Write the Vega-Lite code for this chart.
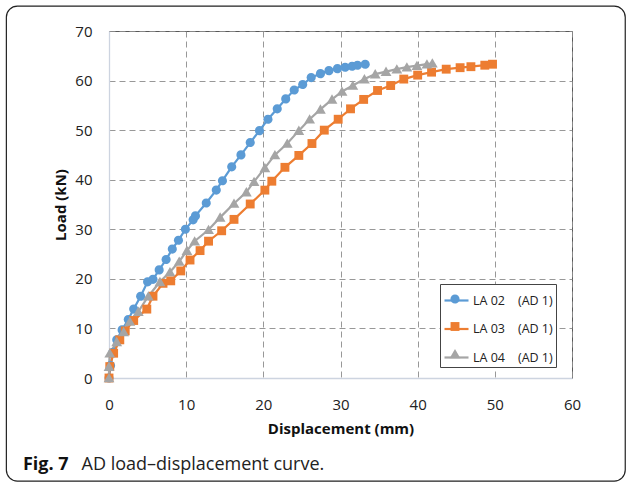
{
  "$schema": "https://vega.github.io/schema/vega-lite/v6.json",
  "width": 463,
  "height": 347,
  "autosize": {"type": "none"},
  "padding": {"left": 109, "top": 31, "right": 54, "bottom": 104},
  "background": "white",
  "config": {
    "font": "Open Sans",
    "view": {"stroke": "#595959", "strokeWidth": 1},
    "axis": {
      "labelFont": "Open Sans", "labelFontSize": 15, "labelColor": "#222",
      "titleFont": "Open Sans", "titleFontSize": 15, "titleFontWeight": "bold", "titleColor": "#111",
      "ticks": false, "tickSize": 0,
      "domainColor": "#cdd4e0", "domainWidth": 1.3,
      "grid": true, "gridColor": "#8c8c8c", "gridDash": [6, 4], "gridWidth": 0.9,
      "labelFlush": false, "labelOverlap": false
    },
    "axisX": {"labelPadding": 19, "titlePadding": 9},
    "axisY": {"labelPadding": 17, "titlePadding": 6}
  },
  "datasets": {
    "curves": [
      {"series": "LA 02", "d": 0, "load": 0},
      {"series": "LA 02", "d": 0.2, "load": 2.5},
      {"series": "LA 02", "d": 0.5, "load": 5.2},
      {"series": "LA 02", "d": 1.0, "load": 7.7},
      {"series": "LA 02", "d": 1.7, "load": 9.7},
      {"series": "LA 02", "d": 2.5, "load": 11.8},
      {"series": "LA 02", "d": 3.2, "load": 13.9},
      {"series": "LA 02", "d": 4.1, "load": 16.5},
      {"series": "LA 02", "d": 5.0, "load": 19.4},
      {"series": "LA 02", "d": 5.7, "load": 19.9},
      {"series": "LA 02", "d": 6.5, "load": 21.8},
      {"series": "LA 02", "d": 7.4, "load": 23.9},
      {"series": "LA 02", "d": 8.2, "load": 26.0},
      {"series": "LA 02", "d": 9.0, "load": 27.8},
      {"series": "LA 02", "d": 9.9, "load": 30.0},
      {"series": "LA 02", "d": 10.9, "load": 31.9},
      {"series": "LA 02", "d": 11.2, "load": 32.7},
      {"series": "LA 02", "d": 12.6, "load": 35.3},
      {"series": "LA 02", "d": 13.9, "load": 37.9},
      {"series": "LA 02", "d": 14.7, "load": 39.8},
      {"series": "LA 02", "d": 15.9, "load": 42.6},
      {"series": "LA 02", "d": 17.1, "load": 45.0},
      {"series": "LA 02", "d": 18.3, "load": 47.5},
      {"series": "LA 02", "d": 19.5, "load": 49.9},
      {"series": "LA 02", "d": 20.6, "load": 52.2},
      {"series": "LA 02", "d": 21.8, "load": 54.3},
      {"series": "LA 02", "d": 22.9, "load": 56.3},
      {"series": "LA 02", "d": 24.0, "load": 58.1},
      {"series": "LA 02", "d": 25.1, "load": 59.2},
      {"series": "LA 02", "d": 26.2, "load": 60.6},
      {"series": "LA 02", "d": 27.4, "load": 61.4},
      {"series": "LA 02", "d": 28.5, "load": 62.0},
      {"series": "LA 02", "d": 29.6, "load": 62.4},
      {"series": "LA 02", "d": 30.6, "load": 62.7},
      {"series": "LA 02", "d": 31.5, "load": 62.9},
      {"series": "LA 02", "d": 32.2, "load": 63.1},
      {"series": "LA 02", "d": 33.2, "load": 63.3},
      {"series": "LA 03", "d": 0, "load": 0},
      {"series": "LA 03", "d": 0.1, "load": 2.3},
      {"series": "LA 03", "d": 0.6, "load": 5.0},
      {"series": "LA 03", "d": 1.4, "load": 7.7},
      {"series": "LA 03", "d": 2.1, "load": 9.5},
      {"series": "LA 03", "d": 3.2, "load": 11.6},
      {"series": "LA 03", "d": 4.9, "load": 13.9},
      {"series": "LA 03", "d": 5.7, "load": 16.5},
      {"series": "LA 03", "d": 7.0, "load": 19.1},
      {"series": "LA 03", "d": 8.0, "load": 19.6},
      {"series": "LA 03", "d": 9.3, "load": 21.6},
      {"series": "LA 03", "d": 10.5, "load": 23.8},
      {"series": "LA 03", "d": 11.8, "load": 25.7},
      {"series": "LA 03", "d": 12.9, "load": 27.6},
      {"series": "LA 03", "d": 14.6, "load": 29.7},
      {"series": "LA 03", "d": 16.2, "load": 32.0},
      {"series": "LA 03", "d": 18.3, "load": 35.1},
      {"series": "LA 03", "d": 20.2, "load": 37.9},
      {"series": "LA 03", "d": 21.1, "load": 39.7},
      {"series": "LA 03", "d": 22.8, "load": 42.5},
      {"series": "LA 03", "d": 24.6, "load": 44.9},
      {"series": "LA 03", "d": 26.3, "load": 47.3},
      {"series": "LA 03", "d": 27.9, "load": 50.0},
      {"series": "LA 03", "d": 29.7, "load": 52.2},
      {"series": "LA 03", "d": 31.3, "load": 54.3},
      {"series": "LA 03", "d": 33.0, "load": 56.2},
      {"series": "LA 03", "d": 34.8, "load": 58.0},
      {"series": "LA 03", "d": 36.5, "load": 59.0},
      {"series": "LA 03", "d": 38.2, "load": 60.3},
      {"series": "LA 03", "d": 40.0, "load": 61.1},
      {"series": "LA 03", "d": 41.8, "load": 61.7},
      {"series": "LA 03", "d": 43.7, "load": 62.3},
      {"series": "LA 03", "d": 45.5, "load": 62.6},
      {"series": "LA 03", "d": 46.9, "load": 62.8},
      {"series": "LA 03", "d": 48.7, "load": 63.1},
      {"series": "LA 03", "d": 49.7, "load": 63.3},
      {"series": "LA 04", "d": 0, "load": 0},
      {"series": "LA 04", "d": 0.0, "load": 2.3},
      {"series": "LA 04", "d": 0.1, "load": 5.0},
      {"series": "LA 04", "d": 1.0, "load": 7.3},
      {"series": "LA 04", "d": 1.9, "load": 9.3},
      {"series": "LA 04", "d": 2.7, "load": 11.4},
      {"series": "LA 04", "d": 3.8, "load": 13.4},
      {"series": "LA 04", "d": 5.1, "load": 16.5},
      {"series": "LA 04", "d": 6.6, "load": 19.4},
      {"series": "LA 04", "d": 7.9, "load": 21.4},
      {"series": "LA 04", "d": 9.1, "load": 23.5},
      {"series": "LA 04", "d": 10.1, "load": 25.7},
      {"series": "LA 04", "d": 11.1, "load": 27.6},
      {"series": "LA 04", "d": 12.9, "load": 29.9},
      {"series": "LA 04", "d": 14.4, "load": 32.4},
      {"series": "LA 04", "d": 16.2, "load": 35.2},
      {"series": "LA 04", "d": 17.8, "load": 37.5},
      {"series": "LA 04", "d": 18.8, "load": 39.6},
      {"series": "LA 04", "d": 20.2, "load": 42.4},
      {"series": "LA 04", "d": 21.5, "load": 45.0},
      {"series": "LA 04", "d": 23.1, "load": 47.3},
      {"series": "LA 04", "d": 24.6, "load": 49.9},
      {"series": "LA 04", "d": 26.0, "load": 52.2},
      {"series": "LA 04", "d": 27.4, "load": 54.2},
      {"series": "LA 04", "d": 28.9, "load": 56.2},
      {"series": "LA 04", "d": 30.2, "load": 57.8},
      {"series": "LA 04", "d": 31.6, "load": 59.0},
      {"series": "LA 04", "d": 33.1, "load": 60.3},
      {"series": "LA 04", "d": 34.5, "load": 61.3},
      {"series": "LA 04", "d": 35.9, "load": 61.8},
      {"series": "LA 04", "d": 37.3, "load": 62.3},
      {"series": "LA 04", "d": 38.6, "load": 62.7},
      {"series": "LA 04", "d": 39.9, "load": 63.0},
      {"series": "LA 04", "d": 41.2, "load": 63.3},
      {"series": "LA 04", "d": 41.9, "load": 63.5}
    ]
  },
  "layer": [
    {
      "data": {"values": [{}]},
      "mark": {"type": "rect", "fill": null, "filled": false, "stroke": "#222", "strokeWidth": 1.2, "cornerRadius": 11, "clip": false},
      "encoding": {
        "x": {"datum": -13.3, "type": "quantitative", "scale": {"domain": [0, 60], "nice": false}, "title": "Displacement (mm)"},
        "x2": {"datum": 66.9},
        "y": {"datum": 75.0, "type": "quantitative", "scale": {"domain": [0, 70], "nice": false}, "title": "Load (kN)"},
        "y2": {"datum": -20.8}
      }
    },
    {
      "data": {"name": "curves"},
      "mark": {"type": "line", "strokeWidth": 2.2},
      "encoding": {
        "x": {"field": "d", "type": "quantitative", "scale": {"domain": [0, 60], "nice": false}, "title": "Displacement (mm)", "axis": {"values": [0, 10, 20, 30, 40, 50, 60]}},
        "y": {"field": "load", "type": "quantitative", "scale": {"domain": [0, 70], "nice": false}, "title": "Load (kN)", "axis": {"values": [0, 10, 20, 30, 40, 50, 60, 70]}},
        "color": {
          "field": "series", "type": "nominal",
          "scale": {"range": ["#5B9BD5", "#ED7D31", "#A5A5A5"]},
          "legend": {
            "orient": "none", "legendX": 331, "legendY": 253, "title": null,
            "padding": 3, "rowPadding": 8.5, "labelFont": "Open Sans", "labelFontSize": 12.5, "labelColor": "#222",
            "labelOffset": 3, "symbolSize": 576, "symbolType": "stroke", "symbolStrokeWidth": 2.2,
            "strokeColor": "#444", "fillColor": "white",
            "labelExpr": "datum.label + '\u00a0\u00a0\u00a0\u00a0(AD 1)'"
          }
        },
        "detail": {"field": "series"}
      }
    },
    {
      "data": {"name": "curves"},
      "mark": {"type": "point", "filled": true, "size": 576, "opacity": 1, "strokeWidth": 0},
      "encoding": {
        "x": {"field": "d", "type": "quantitative", "scale": {"domain": [0, 60], "nice": false}, "title": "Displacement (mm)"},
        "y": {"field": "load", "type": "quantitative", "scale": {"domain": [0, 70], "nice": false}, "title": "Load (kN)"},
        "fill": {
          "field": "series", "type": "nominal",
          "scale": {"domain": ["LA 02", "LA 03", "LA 04"], "range": ["#5B9BD5", "#ED7D31", "#A5A5A5"]},
          "legend": {
            "orient": "none", "legendX": 331, "legendY": 253, "title": null,
            "padding": 3, "rowPadding": 8.5, "labelFont": "Open Sans", "labelFontSize": 12.5, "labelOpacity": 0,
            "labelOffset": 3, "symbolSize": 576, "symbolStrokeWidth": 0, "symbolOpacity": 1,
            "labelExpr": "''"
          }
        },
        "shape": {
          "field": "series", "type": "nominal",
          "scale": {"domain": ["LA 02", "LA 03", "LA 04"], "range": [
            "M0.38,0A0.38,0.38 0 1,1 -0.38,0A0.38,0.38 0 1,1 0.38,0Z",
            "M-0.37,-0.37H0.37V0.37H-0.37Z",
            "M0,-0.42L0.45,0.36L-0.45,0.36Z"
          ]}
        }
      }
    },
    {
      "data": {"values": [{}]},
      "mark": {"type": "text", "align": "left", "baseline": "alphabetic", "font": "Open Sans", "fontSize": 18, "fontWeight": "bold", "color": "#111", "text": "Fig. 7"},
      "encoding": {
        "x": {"datum": -11.15, "type": "quantitative", "scale": {"domain": [0, 60], "nice": false}, "title": "Displacement (mm)"},
        "y": {"datum": -18.6, "type": "quantitative", "scale": {"domain": [0, 70], "nice": false}, "title": "Load (kN)"}
      }
    },
    {
      "data": {"values": [{}]},
      "mark": {"type": "text", "align": "left", "baseline": "alphabetic", "font": "Open Sans", "fontSize": 18, "fontWeight": "normal", "color": "#222", "text": "AD load–displacement curve."},
      "encoding": {
        "x": {"datum": -3.55, "type": "quantitative", "scale": {"domain": [0, 60], "nice": false}, "title": "Displacement (mm)"},
        "y": {"datum": -18.6, "type": "quantitative", "scale": {"domain": [0, 70], "nice": false}, "title": "Load (kN)"}
      }
    }
  ]
}
